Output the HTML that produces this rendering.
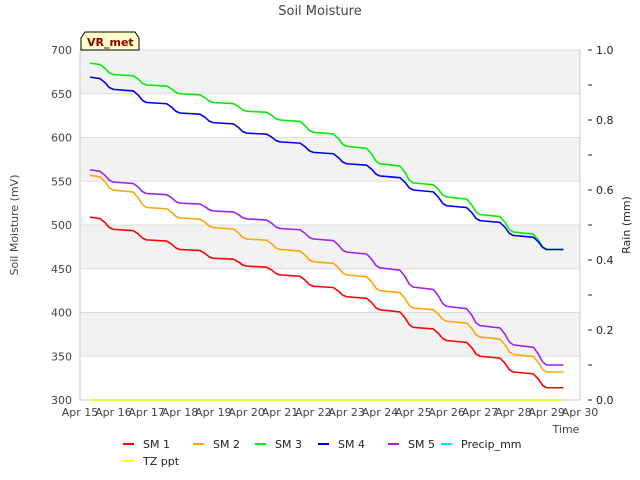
<!DOCTYPE html>
<html><head><meta charset="utf-8"><style>
body{margin:0;background:#fff;}
svg{display:block;font-family:"DejaVu Sans","Liberation Sans",sans-serif;}
</style></head><body>
<svg id="chart" width="640" height="480" viewBox="0 0 640 480">
<text x="320" y="15" text-anchor="middle" font-size="13" fill="#444">Soil Moisture</text>
<g id="bands"></g>
<g id="axes"></g>
<g id="series"></g>
<g>
<path d="M81,50 L81,38 L85,32 L135,32 L139,38 L139,50 Z" fill="#ffffcc" stroke="#000" stroke-width="1"/>
<text x="87" y="46" font-size="11" font-weight="bold" fill="#8b0000">VR_met</text>
</g>
<text transform="translate(18,225) rotate(-90)" text-anchor="middle" font-size="11" fill="#444">Soil Moisture (mV)</text>
<text transform="translate(630,225) rotate(-90)" text-anchor="middle" font-size="11" fill="#222">Rain (mm)</text>
<text x="566" y="433" text-anchor="middle" font-size="11" fill="#444">Time</text>
<g id="legend"></g>
</svg>
<script>
const days = [15,16,17,18,19,20,21,22,23,24,25,26,27,28,29];
const xTickLabels = ["Apr 15","Apr 16","Apr 17","Apr 18","Apr 19","Apr 20","Apr 21","Apr 22","Apr 23","Apr 24","Apr 25","Apr 26","Apr 27","Apr 28","Apr 29","Apr 30"];
const yTicks = [300,350,400,450,500,550,600,650,700];
const rainTicks = [0,0.2,0.4,0.6,0.8,1.0];
const sm1 = [509,495,483,472,462,453,443,430,418,403,383,368,350,332,314];
const sm2 = [557,540,520,508,497,484,472,458,443,425,405,390,372,352,332];
const sm3 = [685,672,660,650,640,630,620,606,590,570,548,532,512,492,472];
const sm4 = [669,655,640,628,617,605,595,583,570,556,540,522,505,488,472];
const sm5 = [563,549,536,525,516,507,496,484,469,451,429,407,385,363,340];
const tzppt = [0,0];
const precip = [0,0];
const tStart = 15.3, tEnd = 29.5;

const NS="http://www.w3.org/2000/svg";
const L=80,R=580,T=50,B=400;
const x = d => L + (d-15)*(R-L)/15;
const y = v => B - (v-300)*(B-T)/400;
const yr = v => B - v*(B-T)/1.0;
function mk(tag, attrs, parent){const e=document.createElementNS(NS,tag);for(const k in attrs)e.setAttribute(k,attrs[k]);parent.appendChild(e);return e;}

const bands=document.getElementById('bands');
for(let v=350; v<700; v+=100){
  const r=mk('rect',{x:L,y:y(v+50),width:R-L,height:y(v)-y(v+50),fill:'#f2f2f2'},bands);
  
  
}
const axes=document.getElementById('axes');
yTicks.forEach(v=>{
  const g=mk('line',{x1:L,x2:R,y1:y(v),y2:y(v),stroke:'#ddd','stroke-width':1},axes);
  
  
  const t=mk('text',{x:L-8,y:y(v)+4,'text-anchor':'end','font-size':11,fill:'#444'},axes);
  t.textContent=v;
  
  
});
mk('line',{x1:L,x2:L,y1:T,y2:B,stroke:'#ccc'},axes);
mk('line',{x1:L,x2:R,y1:B,y2:B,stroke:'#ccc'},axes);
mk('line',{x1:R,x2:R,y1:T,y2:B,stroke:'#ccc'},axes);
xTickLabels.forEach((s,i)=>{
  const t=mk('text',{x:x(15+i),y:416,'text-anchor':'middle','font-size':11,fill:'#444'},axes);
  t.textContent=s;
  
  
});
for(let k=0;k<=10;k++){
  mk('line',{x1:R+8,x2:R+12,y1:yr(k/10),y2:yr(k/10),stroke:'#222'},axes);
}
rainTicks.forEach(v=>{
  const t=mk('text',{x:R+8+8,y:yr(v)+4,'font-size':11,fill:'#222'},axes);
  t.textContent=v.toFixed(1);
  
  
});

const ser=document.getElementById('series');
function drawSM(vals,color,name){
  let pts=[];
  vals.forEach((v,i)=>{
    const d=days[i];
    const nxt = i<vals.length-1 ? vals[i+1] : v;
    const s=Math.max(d,tStart);
    pts.push([x(s),y(v)]);
    if(i<vals.length-1){
      pts.push([x(d+0.6),y(v-(v-nxt)*0.12)]);
      pts.push([x(d+0.75),y(v-(v-nxt)*0.45)]);
      pts.push([x(d+0.88),y(v-(v-nxt)*0.85)]);
    } else {
      pts.push([x(tEnd),y(v)]);
    }
  });
  const p=mk('polyline',{points:pts.map(p=>p.join(',')).join(' '),fill:'none',stroke:color,'stroke-width':1.6,'stroke-linejoin':'round'},ser);
  
  
}
const p1=mk('line',{x1:x(tStart),x2:x(tEnd),y1:yr(precip[0]),y2:yr(precip[1]),stroke:'#00e5ff','stroke-width':1.5},ser);


const tz=mk('line',{x1:x(tStart),x2:x(tEnd),y1:yr(tzppt[0]),y2:yr(tzppt[1]),stroke:'#ffff00','stroke-width':1.5},ser);


drawSM(sm1,'#ff0000','sm1-line');
drawSM(sm2,'#ffa500','sm2-line');
drawSM(sm3,'#00ee00','sm3-line');
drawSM(sm4,'#0000ee','sm4-line');
drawSM(sm5,'#a020f0','sm5-line');

const lg=document.getElementById('legend');
const items=[['SM 1','#ff0000',123,448],['SM 2','#ffa500',193,448],['SM 3','#00ee00',255,448],['SM 4','#0000ee',318,448],['SM 5','#a020f0',388,448],['Precip_mm','#00e5ff',441,448],['TZ ppt','#ffff00',123,465]];
items.forEach(it=>{
  const g=mk('g',{},lg);
  
  
  mk('line',{x1:it[2],x2:it[2]+11,y1:it[3]-4,y2:it[3]-4,stroke:it[1],'stroke-width':2},g);
  const t=mk('text',{x:it[2]+20,y:it[3],'font-size':11,fill:'#222'},g);
  t.textContent=it[0];
});
</script>
</body></html>
